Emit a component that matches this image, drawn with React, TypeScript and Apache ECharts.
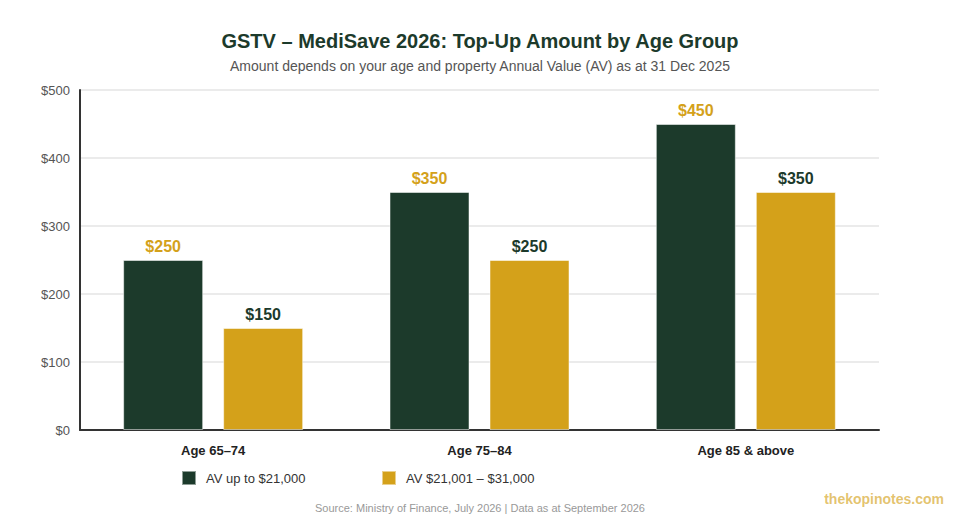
import { useEffect, useRef } from "react";
import * as echarts from "echarts";

const ageGroups = ["Age 65–74", "Age 75–84", "Age 85 & above"];
const lowAvTopUp = [250, 350, 450];
const highAvTopUp = [150, 250, 350];
const seriesNames = ["AV up to $21,000", "AV $21,001 – $31,000"];

const dark = "#1c3a2b";
const gold = "#d4a11a";
const font = "Helvetica, Arial, 'Liberation Sans', sans-serif";

export default function App() {
  const ref = useRef<HTMLDivElement | null>(null);

  useEffect(() => {
    if (!ref.current) {
      return;
    }
    const instance = echarts.init(ref.current, undefined, { renderer: "svg" });

    const barLabel = (color: string) => ({
      show: true,
      position: "top",
      distance: 6,
      color,
      fontFamily: font,
      fontWeight: 700,
      fontSize: 16,
      formatter: (p: any) => "$" + p.value
    });

    const legendBase = {
      top: 470,
      padding: 0,
      itemWidth: 14,
      itemHeight: 14,
      icon: "rect",
      textStyle: { color: "#333", fontSize: 13, padding: [0, 0, 0, 5] }
    };

    instance.setOption({
      animation: false,
      textStyle: { fontFamily: font },
      title: [
        {
          text: "GSTV – MediSave 2026: Top-Up Amount by Age Group",
          left: "center",
          top: 26,
          textStyle: { color: dark, fontSize: 20, fontWeight: 700, fontFamily: font }
        },
        {
          text: "Amount depends on your age and property Annual Value (AV) as at 31 Dec 2025",
          left: "center",
          top: 54,
          textStyle: { color: "#555", fontSize: 14, fontWeight: 400, fontFamily: font }
        },
        {
          text: "Source: Ministry of Finance, July 2026 | Data as at September 2026",
          left: "center",
          top: 497,
          textStyle: { color: "#999", fontSize: 11, fontWeight: 400, fontFamily: font }
        }
      ],
      graphic: [
        {
          type: "text",
          right: 16,
          top: 492,
          style: {
            text: "thekopinotes.com",
            fill: "rgba(212,161,26,0.65)",
            font: `700 14px ${font}`
          }
        }
      ],
      legend: [
        { ...legendBase, data: [seriesNames[0]], left: 181 },
        { ...legendBase, data: [seriesNames[1]], left: 381 }
      ],
      grid: { left: 80, right: 81, top: 90, height: 340 },
      xAxis: {
        type: "category",
        data: ageGroups,
        axisLine: { lineStyle: { color: "#333", width: 2 } },
        axisTick: { show: false },
        axisLabel: { color: "#222", fontWeight: 700, fontSize: 13, margin: 14 }
      },
      yAxis: {
        type: "value",
        min: 0,
        max: 500,
        interval: 100,
        axisLine: { show: true, lineStyle: { color: "#333", width: 2 } },
        axisTick: { show: false },
        axisLabel: {
          color: "#555",
          fontSize: 13,
          margin: 10,
          formatter: (v: number) => "$" + v
        },
        splitLine: { lineStyle: { color: "#ebebeb", width: 2 } }
      },
      series: [
        {
          name: seriesNames[0],
          type: "bar",
          data: lowAvTopUp,
          barWidth: 80,
          barGap: "25%",
          itemStyle: { color: dark, borderColor: "rgba(255,255,255,0.5)", borderWidth: 1 },
          label: barLabel(gold)
        },
        {
          name: seriesNames[1],
          type: "bar",
          data: highAvTopUp,
          barWidth: 80,
          itemStyle: { color: gold, borderColor: "rgba(255,255,255,0.5)", borderWidth: 1 },
          label: barLabel(dark)
        }
      ]
    });

    return () => {
      instance.dispose();
    };
  }, []);

  return (
    <div
      ref={ref}
      style={{ position: "absolute", left: 0, top: 0, width: 960, height: 520, background: "#fff" }}
    />
  );
}
